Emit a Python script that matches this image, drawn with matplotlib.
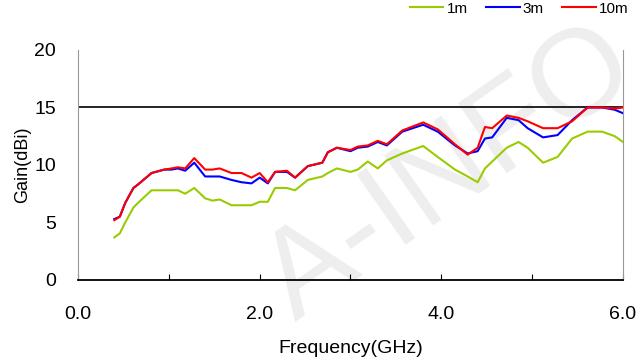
import matplotlib
matplotlib.use('Agg')
import matplotlib.pyplot as plt

# Frequency points (GHz) shared by all three curves
freq = [0.40, 0.46, 0.52, 0.61, 0.66, 0.81, 0.95, 1.03, 1.10, 1.18, 1.28, 1.40,
        1.48, 1.56, 1.69, 1.80, 1.91, 2.00, 2.09, 2.17, 2.30, 2.39, 2.53, 2.69,
        2.75, 2.85, 3.00, 3.08, 3.19, 3.30, 3.40, 3.57, 3.80, 3.96, 4.15, 4.29,
        4.40, 4.48, 4.56, 4.72, 4.85, 4.95, 5.12, 5.28, 5.44, 5.61, 5.77, 5.91,
        6.00]

gain_1m = [3.7, 4.05, 5.0, 6.3, 6.7, 7.8, 7.8, 7.8, 7.8, 7.5, 8.0, 7.1,
           6.9, 7.0, 6.5, 6.5, 6.5, 6.8, 6.8, 8.0, 8.0, 7.8, 8.7, 9.0,
           9.3, 9.7, 9.4, 9.6, 10.3, 9.7, 10.4, 11.0, 11.65, 10.7, 9.6, 9.0,
           8.5, 9.7, 10.3, 11.5, 12.0, 11.5, 10.2, 10.7, 12.3, 12.9, 12.9, 12.5,
           12.0]

gain_3m = [5.3, 5.5, 6.7, 8.0, 8.3, 9.3, 9.6, 9.6, 9.7, 9.5, 10.2, 9.0,
           9.0, 9.0, 8.7, 8.5, 8.4, 8.9, 8.4, 9.4, 9.4, 8.9, 9.9, 10.2,
           11.1, 11.5, 11.2, 11.5, 11.6, 12.0, 11.7, 12.9, 13.5, 12.9, 11.7, 11.0,
           11.2, 12.3, 12.4, 14.1, 13.9, 13.2, 12.4, 12.6, 13.9, 15.0, 15.0, 14.8,
           14.5]

gain_10m = [5.2, 5.5, 6.7, 8.0, 8.3, 9.3, 9.6, 9.7, 9.8, 9.7, 10.6, 9.6,
            9.6, 9.7, 9.3, 9.3, 8.9, 9.3, 8.5, 9.4, 9.5, 8.9, 9.9, 10.2,
            11.1, 11.5, 11.3, 11.6, 11.7, 12.1, 11.8, 13.0, 13.7, 13.1, 11.8, 10.9,
            11.5, 13.3, 13.2, 14.3, 14.1, 13.8, 13.2, 13.2, 13.8, 15.0, 15.0, 14.9,
            15.0]

labels = ['1m', '3m', '10m']
colors = ['#99cc00', '#0000ff', '#ff0000']
ref_level = 15

plt.rcParams['font.family'] = ['Liberation Sans', 'DejaVu Sans']

fig = plt.figure(figsize=(6.43, 3.63), dpi=100)
ax = fig.add_axes([0.1213, 0.2287, 0.8476, 0.6336])

# faint watermark behind everything
ax.text(0.70, 0.52, 'A-INFO', transform=fig.transFigure, fontsize=90,
        color='#eeeeee', rotation=35, ha='center', va='center', zorder=0,
        clip_on=False)

for series, lab, col in zip([gain_1m, gain_3m, gain_10m], labels, colors):
    ax.plot(freq, series, color=col, lw=1.5, label=lab, zorder=3)

ax.axhline(ref_level, color='black', lw=1.2, zorder=2)

ax.set_xlim(0, 6)
ax.set_ylim(0, 20)
ax.set_xticks([0, 1, 2, 3, 4, 5, 6])
ax.set_xticklabels(['0.0', '', '2.0', '', '4.0', '', '6.0'])
ax.set_yticks([0, 5, 10, 15, 20])
ax.tick_params(axis='x', direction='in', length=4, width=0.8, labelsize=14, pad=19)
ax.tick_params(axis='y', length=0, labelsize=14, pad=16)

ax.spines['top'].set_visible(False)
ax.spines['left'].set_color('#999999')
ax.spines['right'].set_color('#999999')
ax.spines['bottom'].set_linewidth(1.3)

ax.set_xlabel('Frequency(GHz)', fontsize=14, labelpad=12)
ax.set_ylabel('Gain(dBi)', fontsize=13, labelpad=2)

ax.legend(loc='upper right', bbox_to_anchor=(1.035, 1.27), ncol=3, frameon=False,
          fontsize=11, handlelength=2.2, handletextpad=0.2, columnspacing=1.2)

fig.savefig('out.png', dpi=100)
